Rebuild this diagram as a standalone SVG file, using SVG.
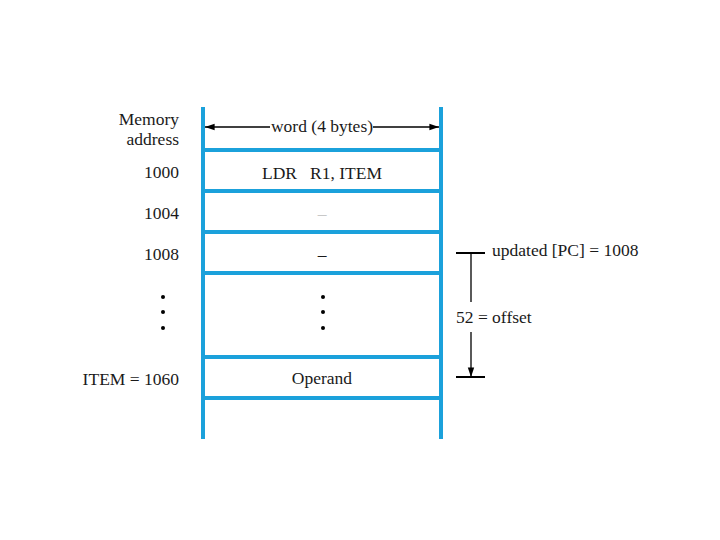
<svg xmlns="http://www.w3.org/2000/svg" width="720" height="540" viewBox="0 0 720 540">
<defs>
<style>
.t{font-family:"Liberation Serif","Times New Roman",serif;font-size:17.5px;fill:#1a1a1a}
.r{text-anchor:end}
.m{text-anchor:middle}
.b{stroke:#1ba1db;stroke-width:4;fill:none}
.k{stroke:#000;stroke-width:1.3;fill:none}
.kt{stroke:#000;stroke-width:2;fill:none}
</style>
<marker id="ah" viewBox="0 0 12 10" refX="12" refY="5" markerWidth="12" markerHeight="8" markerUnits="userSpaceOnUse" orient="auto-start-reverse">
<path d="M0,1 L12,5 L0,9 Z" fill="#000"/>
</marker>
</defs>
<rect width="720" height="540" fill="#fff"/>
<g id="memory">
<line class="b" x1="203" y1="107" x2="203" y2="439"/>
<line class="b" x1="441" y1="107" x2="441" y2="439"/>
<line class="b" x1="203" y1="150" x2="441" y2="150"/>
<line class="b" x1="203" y1="191" x2="441" y2="191"/>
<line class="b" x1="203" y1="232" x2="441" y2="232"/>
<line class="b" x1="203" y1="273" x2="441" y2="273"/>
<line class="b" x1="203" y1="357" x2="441" y2="357"/>
<line class="b" x1="203" y1="398" x2="441" y2="398"/>
</g>
<g id="labels">
<text class="t r" x="179" y="125">Memory</text>
<text class="t r" x="179" y="145">address</text>
<text class="t r" x="179" y="178">1000</text>
<text class="t r" x="179" y="219">1004</text>
<text class="t r" x="179" y="260">1008</text>
<text class="t r" x="179" y="385">ITEM = 1060</text>
<g fill="#000">
<circle cx="163" cy="297" r="2"/><circle cx="163" cy="312" r="2"/><circle cx="163" cy="328" r="2"/>
<circle cx="323" cy="297" r="2"/><circle cx="323" cy="312" r="2"/><circle cx="323" cy="328" r="2"/>
</g>
</g>
<g id="cells">
<text class="t m" x="322" y="179" xml:space="preserve">LDR   R1, ITEM</text>
<text class="t m" x="322" y="219" style="fill:#c8c8c8">–</text>
<text class="t m" x="322" y="260">–</text>
<text class="t m" x="322" y="384">Operand</text>
</g>
<g id="connectors">
<line class="k" x1="205" y1="127" x2="270" y2="127" marker-start="url(#ah)"/>
<line class="k" x1="373" y1="127" x2="439" y2="127" marker-end="url(#ah)"/>
<line class="kt" x1="456" y1="253" x2="485" y2="253"/>
<line class="k" x1="471" y1="253" x2="471" y2="302"/>
<line class="k" x1="471" y1="332" x2="471" y2="377" marker-end="url(#ah)"/>
<line class="kt" x1="456" y1="377" x2="485" y2="377"/>
</g>
<g id="annotations">
<text class="t" x="492" y="256">updated [PC] = 1008</text>
<text class="t" x="456" y="323">52 = offset</text>
<text class="t m" x="322" y="132">word (4 bytes)</text>
</g>
</svg>
